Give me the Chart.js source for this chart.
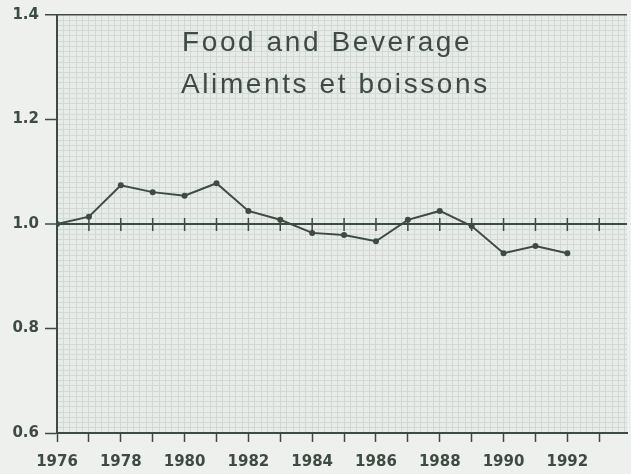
<!DOCTYPE html>
<html>
<head>
<meta charset="utf-8">
<script src="https://cdn.jsdelivr.net/npm/chart.js@4.4.1/dist/chart.umd.min.js"></script>
<style>
  html, body { margin: 0; padding: 0; background: #eef0ed; overflow: hidden; }
  #wrap { width: 631px; height: 474px; }
</style>
</head>
<body>
<div id="wrap"><canvas id="chart" width="631" height="474"></canvas></div>
<script>
// data
const years = [1976, 1977, 1978, 1979, 1980, 1981, 1982, 1983, 1984,
               1985, 1986, 1987, 1988, 1989, 1990, 1991, 1992];
const values = [1.000, 1.014, 1.074, 1.061, 1.054, 1.078, 1.025, 1.008, 0.983,
                0.979, 0.967, 1.008, 1.025, 0.996, 0.944, 0.958, 0.944];
const yTickLabels = ['0.6', '0.8', '1.0', '1.2', '1.4'];
const titleLines = ['Food and Beverage', 'Aliments et boissons'];

const ink = '#3e4b43';
const paper = '#e8ece8';
const gridLine = '#d2d9d4';

const xMin = 1976, xMax = 1993.87;
const yMin = 0.6, yMax = 1.4;

// plot fill, little crossing ticks on the 1.0 line and the title
const extras = {
    id: 'extras',
    beforeDraw(chart) {
        const a = chart.chartArea;
        const c = chart.ctx;
        c.save();
        c.fillStyle = paper;
        c.fillRect(a.left, a.top, a.right - a.left, a.bottom - a.top);
        c.restore();
    },
    beforeDatasetsDraw(chart) {
        const c = chart.ctx;
        const xs = chart.scales.x, ys = chart.scales.y;
        const y1 = ys.getPixelForValue(1.0);
        c.save();
        c.strokeStyle = ink;
        c.lineWidth = 1.5;
        for (let yr = 1977; yr <= 1993; yr++) {
            const px = xs.getPixelForValue(yr);
            c.beginPath();
            c.moveTo(px, y1 - 6);
            c.lineTo(px, y1 + 7);
            c.stroke();
        }
        c.restore();
    },
    afterDraw(chart) {
        const c = chart.ctx;
        c.save();
        c.fillStyle = ink;
        c.font = '28px "Liberation Sans", Arial, sans-serif';
        c.letterSpacing = '2.6px';
        c.textAlign = 'left';
        c.textBaseline = 'alphabetic';
        c.fillText(titleLines[0], 182, 51);
        c.fillText(titleLines[1], 181, 93);
        c.restore();
    }
};

const ctx = document.getElementById('chart').getContext('2d');
const chart = new Chart(ctx, {
    type: 'line',
    data: {
        datasets: [{
            data: years.map((yr, i) => ({ x: yr, y: values[i] })),
            borderColor: ink,
            backgroundColor: ink,
            borderWidth: 2,
            pointRadius: 3,
            pointBorderWidth: 0,
            tension: 0
        }]
    },
    options: {
        responsive: false,
        animation: false,
        layout: { padding: { top: 15, right: 0, left: 0, bottom: 0 } },
        plugins: { legend: { display: false }, tooltip: { enabled: false } },
        scales: {
            x: {
                type: 'linear',
                min: xMin,
                max: xMax,
                afterBuildTicks: (scale) => {
                    const t = [];
                    for (let i = 0; 1976 + i / 5 <= xMax; i++) t.push({ value: 1976 + i / 5 });
                    scale.ticks = t;
                },
                afterFit: (scale) => {
                    scale.height = 41;
                    scale.paddingRight = 0;
                },
                border: { display: true, color: ink, width: 2 },
                grid: {
                    color: gridLine,
                    lineWidth: 1,
                    tickLength: 9,
                    tickWidth: 1.5,
                    tickColor: (c) => (c.tick && Math.abs(c.tick.value - Math.round(c.tick.value)) < 1e-6) ? ink : 'rgba(0,0,0,0)'
                },
                ticks: {
                    autoSkip: false,
                    maxRotation: 0,
                    padding: 11,
                    color: ink,
                    font: { family: '"DejaVu Sans", sans-serif', size: 15, weight: 'bold' },
                    callback: (v) => {
                        const r = Math.round(v);
                        if (Math.abs(v - r) > 1e-6) return '';
                        return (r % 2 === 0 && r <= 1992) ? String(r) : '';
                    }
                }
            },
            y: {
                min: yMin,
                max: yMax,
                afterBuildTicks: (scale) => {
                    const t = [];
                    for (let i = 0; i <= 80; i++) t.push({ value: (60 + i) / 100 });
                    scale.ticks = t;
                },
                afterFit: (scale) => { scale.width = 57; },
                border: { display: true, color: ink, width: 2 },
                grid: {
                    color: (c) => {
                        if (!c.tick) return gridLine;
                        const v = Math.round(c.tick.value * 100);
                        return (v === 100 || v === 140) ? ink : gridLine;
                    },
                    lineWidth: (c) => {
                        if (!c.tick) return 1;
                        const v = Math.round(c.tick.value * 100);
                        return v === 100 ? 2 : (v === 140 ? 1.5 : 1);
                    },
                    tickLength: 12,
                    tickWidth: 1.5,
                    tickColor: (c) => (c.tick && Math.round(c.tick.value * 100) % 20 === 0) ? ink : 'rgba(0,0,0,0)'
                },
                ticks: {
                    autoSkip: false,
                    padding: 6,
                    color: ink,
                    font: { family: '"DejaVu Sans", sans-serif', size: 15, weight: 'bold' },
                    callback: (v) => {
                        const k = Math.round(v * 100);
                        return k % 20 === 0 ? yTickLabels[(k - 60) / 20] : '';
                    }
                }
            }
        }
    },
    plugins: [extras]
});
</script>
</body>
</html>
